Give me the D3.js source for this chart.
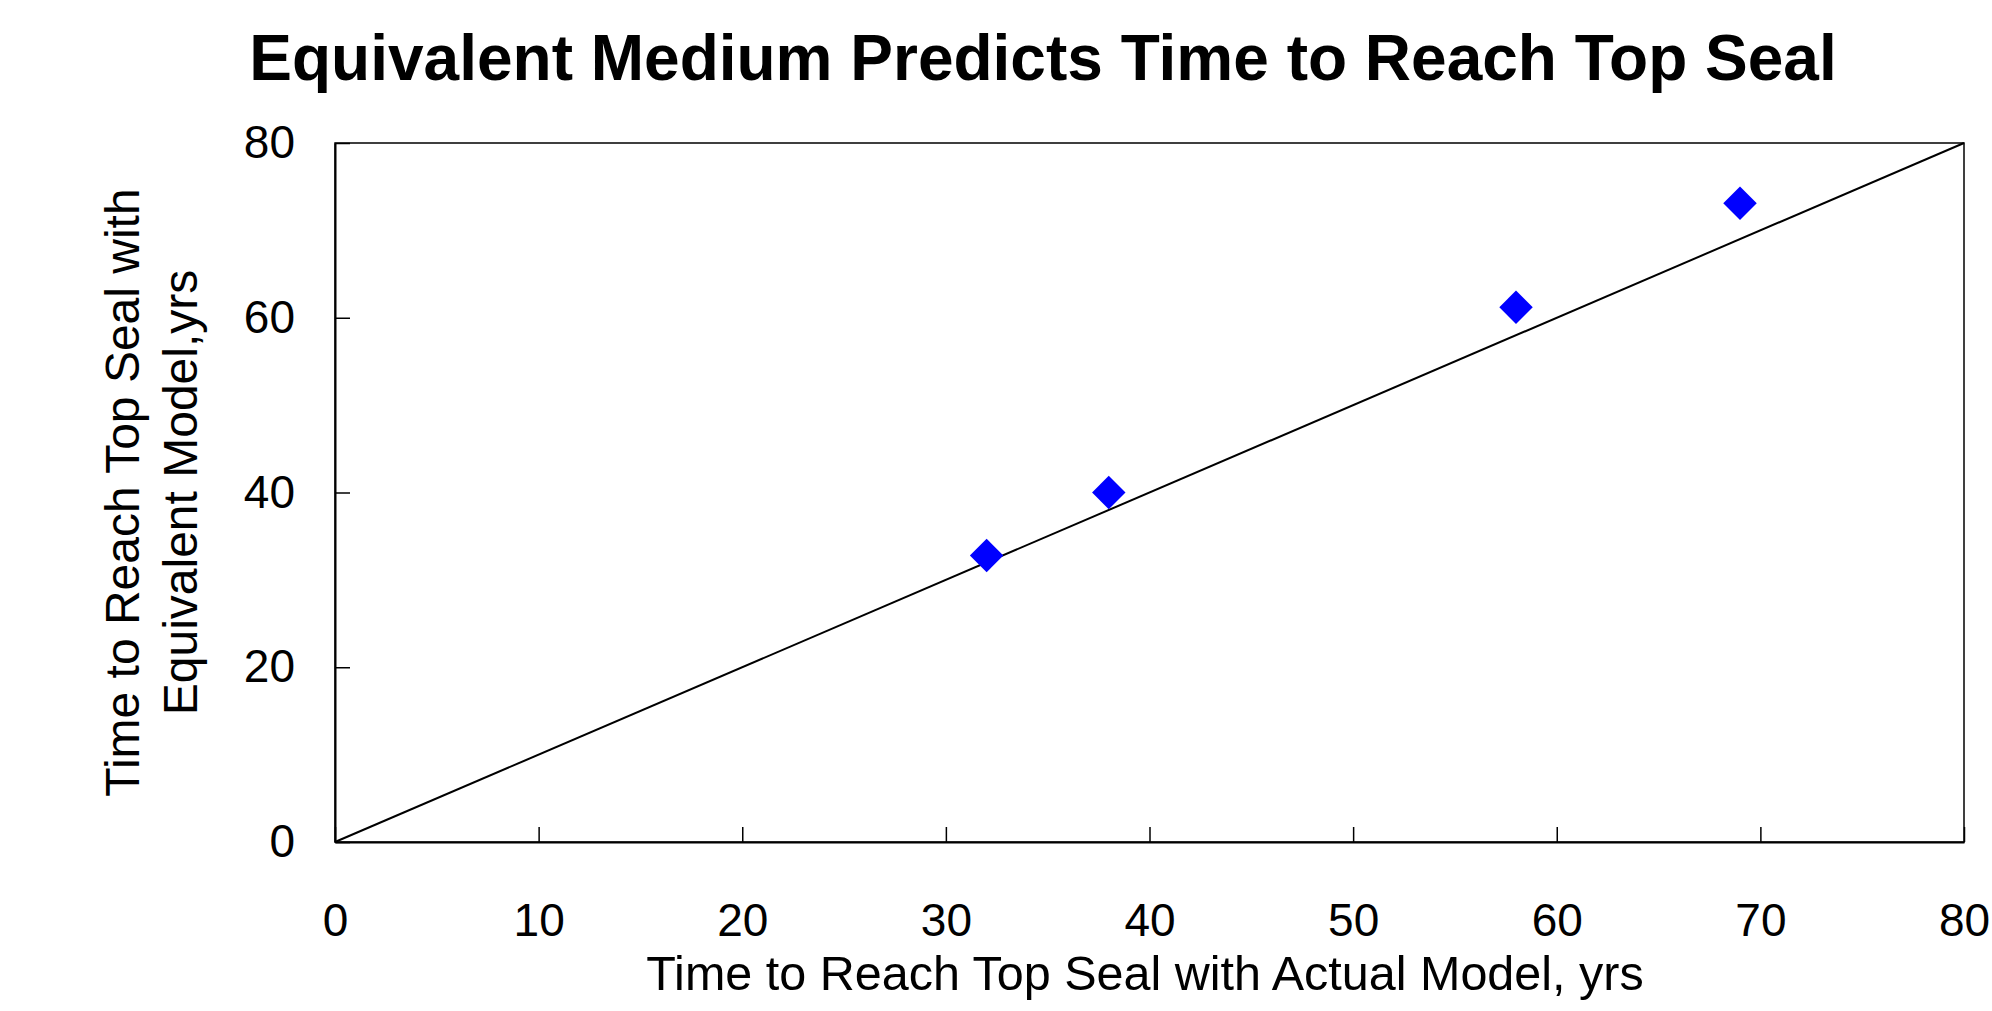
<!DOCTYPE html>
<html>
<head>
<meta charset="utf-8">
<script src="https://cdn.jsdelivr.net/npm/d3@7"></script>
<style>
  body { margin: 0; background: #fff; }
  svg text { font-family: "Liberation Sans", Arial, sans-serif; fill: #000; }
</style>
</head>
<body>
<svg id="chart"></svg>
<script>
const W = 1992, H = 1011;

// values
const actualYrs     = [32, 38, 58, 69];
const equivalentYrs = [32.8, 40, 61.2, 73.1];
const xTicks = [0, 10, 20, 30, 40, 50, 60, 70, 80];
const yTicks = [0, 20, 40, 60, 80];
const refLine = [0, 80];

let svg = d3.select('#chart').attr('width', W).attr('height', H);

let margin = {top: 143, right: 28, bottom: 169, left: 335};
let width  = W - margin.left - margin.right;
let height = H - margin.top - margin.bottom;

let xScale = d3.scaleLinear().domain([0, 80]).range([0, width]);
let yScale = d3.scaleLinear().domain([0, 80]).range([height, 0]);

let g = svg.append('g')
  .attr('transform', `translate(${margin.left}, ${margin.top})`);

// frame
g.append('rect')
  .attr('x', 0).attr('y', 0)
  .attr('width', width).attr('height', height)
  .attr('fill', 'none')
  .attr('stroke', '#000')
  .attr('stroke-width', 1.5);

let xAxis = d3.axisBottom(xScale)
  .tickValues(xTicks)
  .tickSizeInner(-15)
  .tickSizeOuter(0)
  .tickPadding(61);

let yAxis = d3.axisLeft(yScale)
  .tickValues(yTicks)
  .tickSizeInner(-15)
  .tickSizeOuter(0)
  .tickPadding(40);

g.append('g')
  .attr('class', 'axis axis--x')
  .attr('transform', `translate(0, ${height})`)
  .call(xAxis);

g.append('g')
  .attr('class', 'axis axis--y')
  .call(yAxis);

g.selectAll('.axis path').attr('stroke', '#000').attr('stroke-width', 2);
g.selectAll('.axis line').attr('stroke', '#000').attr('stroke-width', 1.5);
g.selectAll('.axis text')
  .attr('font-size', 46)
  .attr('font-family', '"Liberation Sans", Arial, sans-serif')
  .attr('fill', '#000');

// 1:1 line
g.append('line')
  .attr('x1', xScale(refLine[0])).attr('y1', yScale(refLine[0]))
  .attr('x2', xScale(refLine[1])).attr('y2', yScale(refLine[1]))
  .attr('stroke', '#000')
  .attr('stroke-width', 2);

// diamonds
let sym = d3.symbol().type(d3.symbolSquare).size(560);
g.selectAll('.pt')
  .data(actualYrs)
  .enter()
  .append('path')
  .attr('class', 'pt')
  .attr('d', sym)
  .attr('transform', (d, i) => `translate(${xScale(d)}, ${yScale(equivalentYrs[i])}) rotate(45)`)
  .attr('fill', '#0000ff');

// title
svg.append('text')
  .attr('x', 1043)
  .attr('y', 80)
  .attr('text-anchor', 'middle')
  .attr('font-size', 64)
  .attr('font-weight', 'bold')
  .text('Equivalent Medium Predicts Time to Reach Top Seal');

// x axis title
svg.append('text')
  .attr('x', 1145)
  .attr('y', 990)
  .attr('text-anchor', 'middle')
  .attr('font-size', 48.5)
  .text('Time to Reach Top Seal with Actual Model, yrs');

// y axis title, two lines
let yTitle = svg.append('text')
  .attr('transform', `translate(0, ${margin.top + height / 2}) rotate(-90)`)
  .attr('text-anchor', 'middle')
  .attr('font-size', 48);
yTitle.append('tspan').attr('x', 0).attr('y', 139).text('Time to Reach Top Seal with');
yTitle.append('tspan').attr('x', 0).attr('y', 197).text('Equivalent Model,yrs');
</script>
</body>
</html>
